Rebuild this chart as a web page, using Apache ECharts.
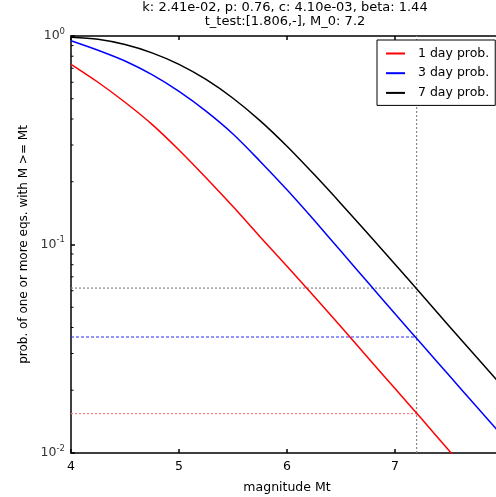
<!DOCTYPE html>
<html>
<head>
<meta charset="utf-8">
<script src="https://cdn.jsdelivr.net/npm/echarts@6/dist/echarts.min.js"></script>
<style>html,body{margin:0;padding:0;background:#fff}#c{width:496px;height:497px}</style>
</head>
<body>
<div id="c"></div>
<script>
const titleLines = ['k: 2.41e-02, p: 0.76, c: 4.10e-03, beta: 1.44', 't_test:[1.806,-], M_0: 7.2'];
const seriesNames = ['1 day prob.', '3 day prob.', '7 day prob.'];
const xTicks = [4, 5, 6, 7, 8];
const yMajor = [0.01, 0.1, 1];
const yMinor = [0.02,0.03,0.04,0.05,0.06,0.07,0.08,0.09,0.2,0.3,0.4,0.5,0.6,0.7,0.8,0.9];

const magnitudes = [4.0, 4.25, 4.5, 4.75, 5.0, 5.25, 5.5, 5.75, 6.0, 6.25, 6.5, 6.75, 7.0, 7.25, 7.5, 7.75, 8.0];
const prob1day = [0.731, 0.600, 0.481, 0.377, 0.284, 0.209, 0.152, 0.109, 0.0787, 0.0564, 0.0403, 0.0286, 0.0204, 0.0145, 0.01028, 0.00729, 0.00517];
const prob3day = [0.9495, 0.855, 0.759, 0.653, 0.543, 0.4365, 0.339, 0.251, 0.183, 0.131, 0.0928, 0.0657, 0.0465, 0.0331, 0.0236, 0.0168, 0.0120];
const prob7day = [0.986, 0.964, 0.910, 0.830, 0.731, 0.619, 0.503, 0.393, 0.296, 0.217, 0.157, 0.1125, 0.0804, 0.0573, 0.0407, 0.0290, 0.0207];

const M0 = 7.2;
const refLevels = [0.0618, 0.036, 0.01545]; // 7 day, 3 day, 1 day at M_0

const zip = (xs, ys) => xs.map((x, i) => [x, ys[i]]);
const font = 'DejaVu Sans';

const chart = echarts.init(document.getElementById('c'), null, {renderer: 'canvas'});
const axisLineStyle = {color: '#000', width: 1.5};
chart.setOption({
  animation: false,
  backgroundColor: '#fff',
  textStyle: {fontFamily: font},
  title: {
    text: titleLines.join('\n'),
    left: 285, top: 1, padding: 0, textAlign: 'center',
    textStyle: {fontFamily: font, fontSize: 13, fontWeight: 'normal', color: '#000', lineHeight: 14}
  },
  grid: {left: 71, top: 36, width: 432, bottom: 44, containLabel: false, outerBoundsMode: 'none'},
  legend: {
    data: seriesNames.map(n => ({name: n, icon: 'rect'})),
    orient: 'vertical', left: 377, top: 40,
    padding: [7, 6, 6, 9], itemGap: 6.7, itemWidth: 19, itemHeight: 2,
    borderColor: '#000', borderWidth: 1, borderRadius: 0, backgroundColor: '#fff',
    textStyle: {fontFamily: font, fontSize: 12.5, color: '#000', padding: [0, 0, 0, 8]}
  },
  xAxis: [{
    type: 'value', min: 4, max: 8, interval: 1, position: 'bottom',
    axisLine: {show: true, onZero: false, lineStyle: axisLineStyle},
    axisTick: {show: true, inside: true, length: 4, lineStyle: {color: '#000', width: 1.5}},
    axisLabel: {show: true, margin: 7, fontFamily: font, fontSize: 12.5, color: '#000',
      formatter: v => xTicks.includes(v) ? String(v) : ''},
    splitLine: {show: false},
    name: 'magnitude Mt', nameLocation: 'middle', nameGap: 28,
    nameTextStyle: {fontFamily: font, fontSize: 12.5, color: '#000'}
  }, {
    type: 'value', min: 4, max: 8, interval: 1, position: 'top',
    axisLine: {show: true, onZero: false, lineStyle: axisLineStyle},
    axisTick: {show: true, inside: true, length: 4, lineStyle: {color: '#000', width: 1.5}},
    axisLabel: {show: false}, splitLine: {show: false}
  }],
  yAxis: [{
    type: 'log', logBase: 10, min: 0.01, max: 1, interval: 1,
    axisLine: {show: true, onZero: false, lineStyle: axisLineStyle},
    axisTick: {show: true, inside: true, length: 4, lineStyle: {color: '#000', width: 1.5}},
    axisLabel: {
      margin: 6, fontFamily: font, fontSize: 12.5, color: '#333',
      formatter: v => '10{s|' + Math.round(Math.log10(v)) + '}',
      rich: {s: {fontFamily: font, fontSize: 8.5, color: '#333', padding: [0, 0, 9, 0]}}
    },
    splitLine: {show: false},
    name: 'prob. of one or more eqs. with M >= Mt', nameLocation: 'middle', nameGap: 37,
    nameTextStyle: {fontFamily: font, fontSize: 12, color: '#000'}
  }],
  series: [
    {name: 'ref7', type: 'line', data: [[4, refLevels[0]], [M0, refLevels[0]]], showSymbol: false, symbol: 'none', silent: true,
      lineStyle: {color: '#888888', width: 1.2, type: [2, 2]}},
    {name: 'ref3', type: 'line', data: [[4, refLevels[1]], [M0, refLevels[1]]], showSymbol: false, symbol: 'none', silent: true,
      lineStyle: {color: '#2a2aff', width: 1.2, type: [3, 2]}},
    {name: 'ref1', type: 'line', data: [[4, refLevels[2]], [M0, refLevels[2]]], showSymbol: false, symbol: 'none', silent: true,
      lineStyle: {color: '#ff8080', width: 1.2, type: [2, 2]}},
    {name: 'vM0', type: 'line', data: [[M0, yMajor[0]], [M0, yMajor[2]]], showSymbol: false, symbol: 'none', silent: true,
      lineStyle: {color: '#888888', width: 1.2, type: [2, 2]}},
    {name: seriesNames[0], type: 'line', data: zip(magnitudes, prob1day), showSymbol: false, symbol: 'none', smooth: 0.3,
      itemStyle: {color: '#ff0000'}, lineStyle: {color: '#ff0000', width: 1.5}, clip: true},
    {name: seriesNames[1], type: 'line', data: zip(magnitudes, prob3day), showSymbol: false, symbol: 'none', smooth: 0.3,
      itemStyle: {color: '#0000ff'}, lineStyle: {color: '#0000ff', width: 1.5}, clip: true},
    {name: seriesNames[2], type: 'line', data: zip(magnitudes, prob7day), showSymbol: false, symbol: 'none', smooth: 0.3,
      itemStyle: {color: '#000000'}, lineStyle: {color: '#000000', width: 1.5}, clip: true},
    {name: 'minorTicks', type: 'custom', silent: true, clip: false,
      data: yMinor.map(v => [4, v]),
      renderItem: (params, api) => {
        const p = api.coord([api.value(0), api.value(1)]);
        return {type: 'line', shape: {x1: p[0], y1: p[1], x2: p[0] + 2.5, y2: p[1]},
          style: {stroke: '#000', lineWidth: 1}};
      }}
  ]
});
</script>
</body>
</html>
